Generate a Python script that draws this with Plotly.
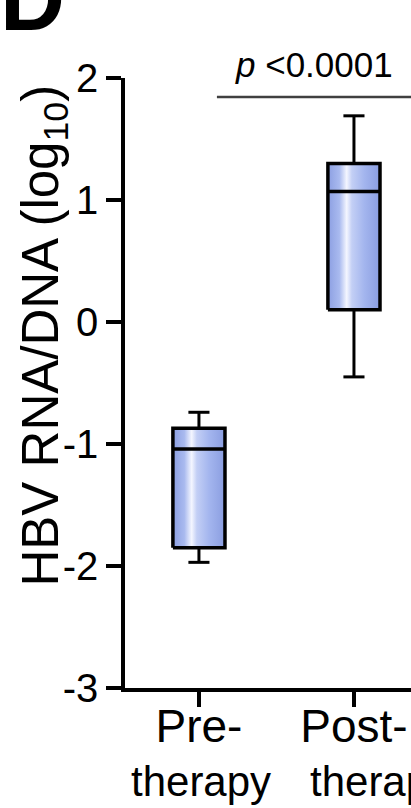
import plotly.graph_objects as go

# Box-plot summary statistics for HBV RNA/DNA ratio (log10)
groups = ["Pre-therapy", "Post-therapy"]
tick_first_line = ["Pre-", "Post-"]
tick_second_line = ["therapy", "therapy"]
whisker_low = [-1.97, -0.45]
q1 = [-1.85, 0.10]
median = [-1.04, 1.07]
q3 = [-0.87, 1.30]
whisker_high = [-0.74, 1.69]
y_ticks = [-3, -2, -1, 0, 1, 2]
y_tick_text = ["-3", "-2", "-1", "0", "1", "2"]
p_label = "<i>p</i> <0.0001"
p_level = 1.845

FONT = "Liberation Sans, Arial, sans-serif"
BOX_HALF = 0.168
CAP_HALF = 0.068
LW = 3.5

fig = go.Figure()
positions = list(range(len(groups)))

for i, name in enumerate(groups):
    x0, x1 = positions[i] - BOX_HALF, positions[i] + BOX_HALF
    # whiskers with caps
    for lo, hi in ((whisker_low[i], q1[i]), (q3[i], whisker_high[i])):
        fig.add_trace(go.Scatter(
            x=[positions[i], positions[i]], y=[lo, hi], mode="lines",
            line=dict(color="black", width=3), hoverinfo="skip", showlegend=False))
    for yv in (whisker_low[i], whisker_high[i]):
        fig.add_trace(go.Scatter(
            x=[positions[i] - CAP_HALF, positions[i] + CAP_HALF], y=[yv, yv], mode="lines",
            line=dict(color="black", width=3), hoverinfo="skip", showlegend=False))
    # shaded box from Q1 to Q3
    fig.add_trace(go.Scatter(
        x=[x0, x1, x1, x0, x0], y=[q1[i], q1[i], q3[i], q3[i], q1[i]],
        mode="lines", fill="toself", name=name,
        fillgradient=dict(
            type="horizontal", start=x0, stop=x1,
            colorscale=[[0.0, "#8c9fe2"], [0.22, "#a9baef"], [0.36, "#f4f6ff"],
                        [0.46, "#c3cff5"], [0.7, "#a3b5ee"], [1.0, "#8a9de0"]]),
        line=dict(color="black", width=LW), hoverinfo="skip", showlegend=False))
    # median line
    fig.add_trace(go.Scatter(
        x=[x0, x1], y=[median[i], median[i]], mode="lines",
        line=dict(color="black", width=LW), hoverinfo="skip", showlegend=False))

# significance bar
fig.add_trace(go.Scatter(
    x=[positions[0] + 0.116, positions[1] + 0.7], y=[p_level, p_level], mode="lines",
    line=dict(color="#404040", width=2.5), hoverinfo="skip", showlegend=False))
fig.add_annotation(
    x=0.66, xref="paper", y=p_level, yref="y", yanchor="bottom",
    text=p_label, showarrow=False, font=dict(family=FONT, size=35, color="black"),
    yshift=11)

# second line of the group labels
for i, word in enumerate(tick_second_line):
    fig.add_annotation(
        x=positions[i], xref="x", y=-0.154, yref="paper", yanchor="middle",
        text=word, showarrow=False, font=dict(family=FONT, size=42, color="black"),
        xshift=2 if i == 0 else 26)

# y-axis title
fig.add_annotation(
    x=-0.283, xref="paper", xanchor="center", y=0.578, yref="paper", yanchor="middle",
    text="HBV RNA/DNA (log<sub>10</sub>)", textangle=-90, showarrow=False,
    font=dict(family=FONT, size=51, color="black"))

# panel letter
fig.add_annotation(
    x=-0.445, xref="paper", xanchor="left", y=1.1295, yref="paper", yanchor="middle",
    text="<b>D</b>", showarrow=False, font=dict(family=FONT, size=90, color="black"))

fig.update_layout(
    width=411, height=808,
    margin=dict(l=125, r=0, t=78, b=120),
    paper_bgcolor="white", plot_bgcolor="white",
    font=dict(family=FONT, color="black"),
    xaxis=dict(
        range=[-0.477, 1.368], tickvals=positions, ticktext=tick_first_line,
        showline=True, linecolor="black", linewidth=LW, mirror=False,
        ticks="outside", ticklen=15, tickwidth=LW, tickcolor="black",
        tickfont=dict(size=46, family=FONT), ticklabeloverflow="allow",
        ticklabelstandoff=-20,
        showgrid=False, zeroline=False, fixedrange=True),
    yaxis=dict(
        range=[-3, 2], tickvals=y_ticks, ticktext=y_tick_text,
        showline=True, linecolor="black", linewidth=LW,
        ticks="outside", ticklen=15, tickwidth=LW, tickcolor="black",
        tickfont=dict(size=40, family=FONT), showgrid=False, zeroline=False,
        fixedrange=True),
)

fig.write_html("out.html")
